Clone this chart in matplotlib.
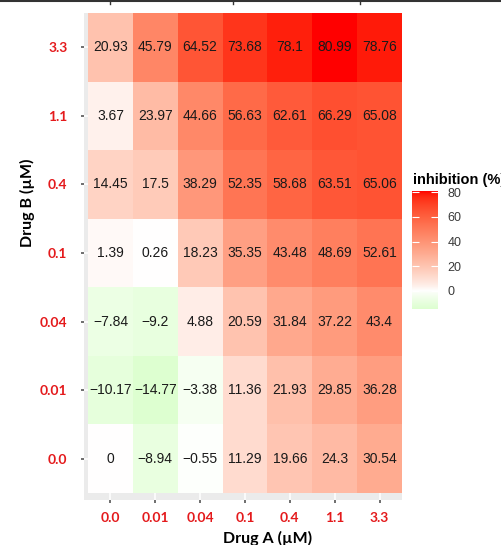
import numpy as np
import matplotlib
matplotlib.use("Agg")
import matplotlib.pyplot as plt
from matplotlib.colors import ListedColormap, Normalize
from matplotlib.lines import Line2D

drug_a = ["0.0", "0.01", "0.04", "0.1", "0.4", "1.1", "3.3"]
drug_b = ["0.0", "0.01", "0.04", "0.1", "0.4", "1.1", "3.3"]  # bottom -> top

row_00 = [0, -8.94, -0.55, 11.29, 19.66, 24.3, 30.54]
row_001 = [-10.17, -14.77, -3.38, 11.36, 21.93, 29.85, 36.28]
row_004 = [-7.84, -9.2, 4.88, 20.59, 31.84, 37.22, 43.4]
row_01 = [1.39, 0.26, 18.23, 35.35, 43.48, 48.69, 52.61]
row_04 = [14.45, 17.5, 38.29, 52.35, 58.68, 63.51, 65.06]
row_11 = [3.67, 23.97, 44.66, 56.63, 62.61, 66.29, 65.08]
row_33 = [20.93, 45.79, 64.52, 73.68, 78.1, 80.99, 78.76]

cbar_ticks = [0, 20, 40, 60, 80]

Z = np.array([row_00, row_001, row_004, row_01, row_04, row_11, row_33])

# --- Lab interpolation (like ggplot's gradient2) ---
def srgb_to_lab(rgb):
    rgb = np.asarray(rgb, float)
    lin = np.where(rgb <= 0.04045, rgb / 12.92, ((rgb + 0.055) / 1.055) ** 2.4)
    M = np.array([[0.4124, 0.3576, 0.1805],
                  [0.2126, 0.7152, 0.0722],
                  [0.0193, 0.1192, 0.9505]])
    xyz = M @ lin
    wp = np.array([0.95047, 1.0, 1.08883])
    t = xyz / wp
    f = np.where(t > (6/29) ** 3, np.cbrt(t), t / (3 * (6/29) ** 2) + 4/29)
    L = 116 * f[1] - 16
    a = 500 * (f[0] - f[1])
    b = 200 * (f[1] - f[2])
    return np.array([L, a, b])

def lab_to_srgb(lab):
    L, a, b = lab
    fy = (L + 16) / 116
    fx = fy + a / 500
    fz = fy - b / 200
    f = np.array([fx, fy, fz])
    t = np.where(f > 6/29, f ** 3, 3 * (6/29) ** 2 * (f - 4/29))
    wp = np.array([0.95047, 1.0, 1.08883])
    xyz = t * wp
    Minv = np.array([[3.2406, -1.5372, -0.4986],
                     [-0.9689, 1.8758, 0.0415],
                     [0.0557, -0.2040, 1.0570]])
    lin = Minv @ xyz
    lin = np.clip(lin, 0, 1)
    rgb = np.where(lin <= 0.0031308, 12.92 * lin, 1.055 * lin ** (1/2.4) - 0.055)
    return np.clip(rgb, 0, 1)

low = srgb_to_lab([0, 1, 0])
mid = srgb_to_lab([1, 1, 1])
high = srgb_to_lab([1, 0, 0])
cols = []
for t in np.linspace(0, 1, 512):
    if t < 0.5:
        s = ((0.5 - t) / 0.5) ** 0.85
        lab = mid + (low - mid) * s
    else:
        s = ((t - 0.5) / 0.5) ** 0.85
        lab = mid + (high - mid) * s
    cols.append(lab_to_srgb(lab))
cmap = ListedColormap(cols)
vmax = np.abs(Z).max()
norm = Normalize(vmin=-vmax, vmax=vmax)

W, H = 502, 545
fig = plt.figure(figsize=(W / 100, H / 100), dpi=100)

def px_axes(x0, y0, x1, y1):
    return fig.add_axes([x0 / W, 1 - y1 / H, (x1 - x0) / W, (y1 - y0) / H])

ax = px_axes(84, 13, 402, 500)
ax.set_facecolor("#ebebeb")
nx, ny = len(drug_a), len(drug_b)
ax.set_axisbelow(True)
ax.grid(True, color="white", lw=1.1)
ax.pcolormesh(np.arange(nx + 1) - 0.5, np.arange(ny + 1) - 0.5, Z,
              cmap=cmap, norm=norm, shading="flat", zorder=2)
for i in range(ny):
    for j in range(nx):
        v = Z[i, j]
        s = f"{v:g}".replace("-", "\u2212")
        ax.text(j, i, s, ha="center", va="center", fontsize=10, zorder=3,
                family=["Liberation Sans", "DejaVu Sans"], color="#1a1a1a")
ax.set_xlim(-0.5 - 4 / 44.86, nx - 0.5)
ax.set_ylim(-0.5 - 7 / 68.57, ny - 0.5)
for sp in ax.spines.values():
    sp.set_visible(False)
ax.set_xticks(range(nx))
ax.set_xticklabels(drug_a)
ax.set_yticks(range(ny))
ax.set_yticklabels(drug_b)
ax.tick_params(axis="x", length=2, width=1.2, color="#555555", pad=7)
ax.tick_params(axis="y", length=2, width=1.2, color="#555555", pad=10)
for lab in ax.get_xticklabels() + ax.get_yticklabels():
    lab.set_fontfamily("Lato")
    lab.set_fontweight("bold")
    lab.set_fontsize(10)
    lab.set_color("#e41a1c")

fig.text(268 / W, 1 - 538 / H, "Drug A (\u00b5M)", ha="center", va="center",
         fontsize=11.5, fontweight="bold", family="Lato", color="black")
fig.text(27 / W, 1 - 203 / H, "Drug B (\u00b5M)", ha="center", va="center",
         rotation=90, fontsize=11.5, fontweight="bold", family="Lato", color="black")

# colorbar
cax = px_axes(412, 191, 438, 309)
zmin, zmax = Z.min(), Z.max()
grad = np.linspace(zmin, zmax, 300).reshape(-1, 1)
cax.imshow(grad, aspect="auto", origin="lower", cmap=cmap, norm=norm,
           extent=[0, 1, zmin, zmax])
cax.set_xlim(0, 1)
cax.set_ylim(zmin, zmax)
cax.set_xticks([])
cax.set_yticks(cbar_ticks)
cax.yaxis.tick_right()
cax.tick_params(axis="y", direction="in", length=5, width=0.8, color="white",
                left=True, right=True, labelleft=False, labelright=True, pad=7,
                labelsize=9, labelcolor="#3a3a3a")
for lab in cax.get_yticklabels():
    lab.set_fontfamily("Liberation Sans")
for sp in cax.spines.values():
    sp.set_visible(False)
fig.text(413 / W, 1 - 180 / H, "inhibition (%)", ha="left", va="center",
         fontsize=10.5, fontweight="bold", family="Liberation Sans", color="black")

# top border artifact
fig.add_artist(Line2D([0, 1], [1 - 1 / H, 1 - 1 / H], color="#333333", lw=1.5,
                      transform=fig.transFigure))
for xv in [110, 233, 360]:
    fig.add_artist(Line2D([xv / W, xv / W], [1, 1 - 4 / H], color="#333333", lw=1,
                          transform=fig.transFigure))

fig.savefig("out.png", dpi=100)
